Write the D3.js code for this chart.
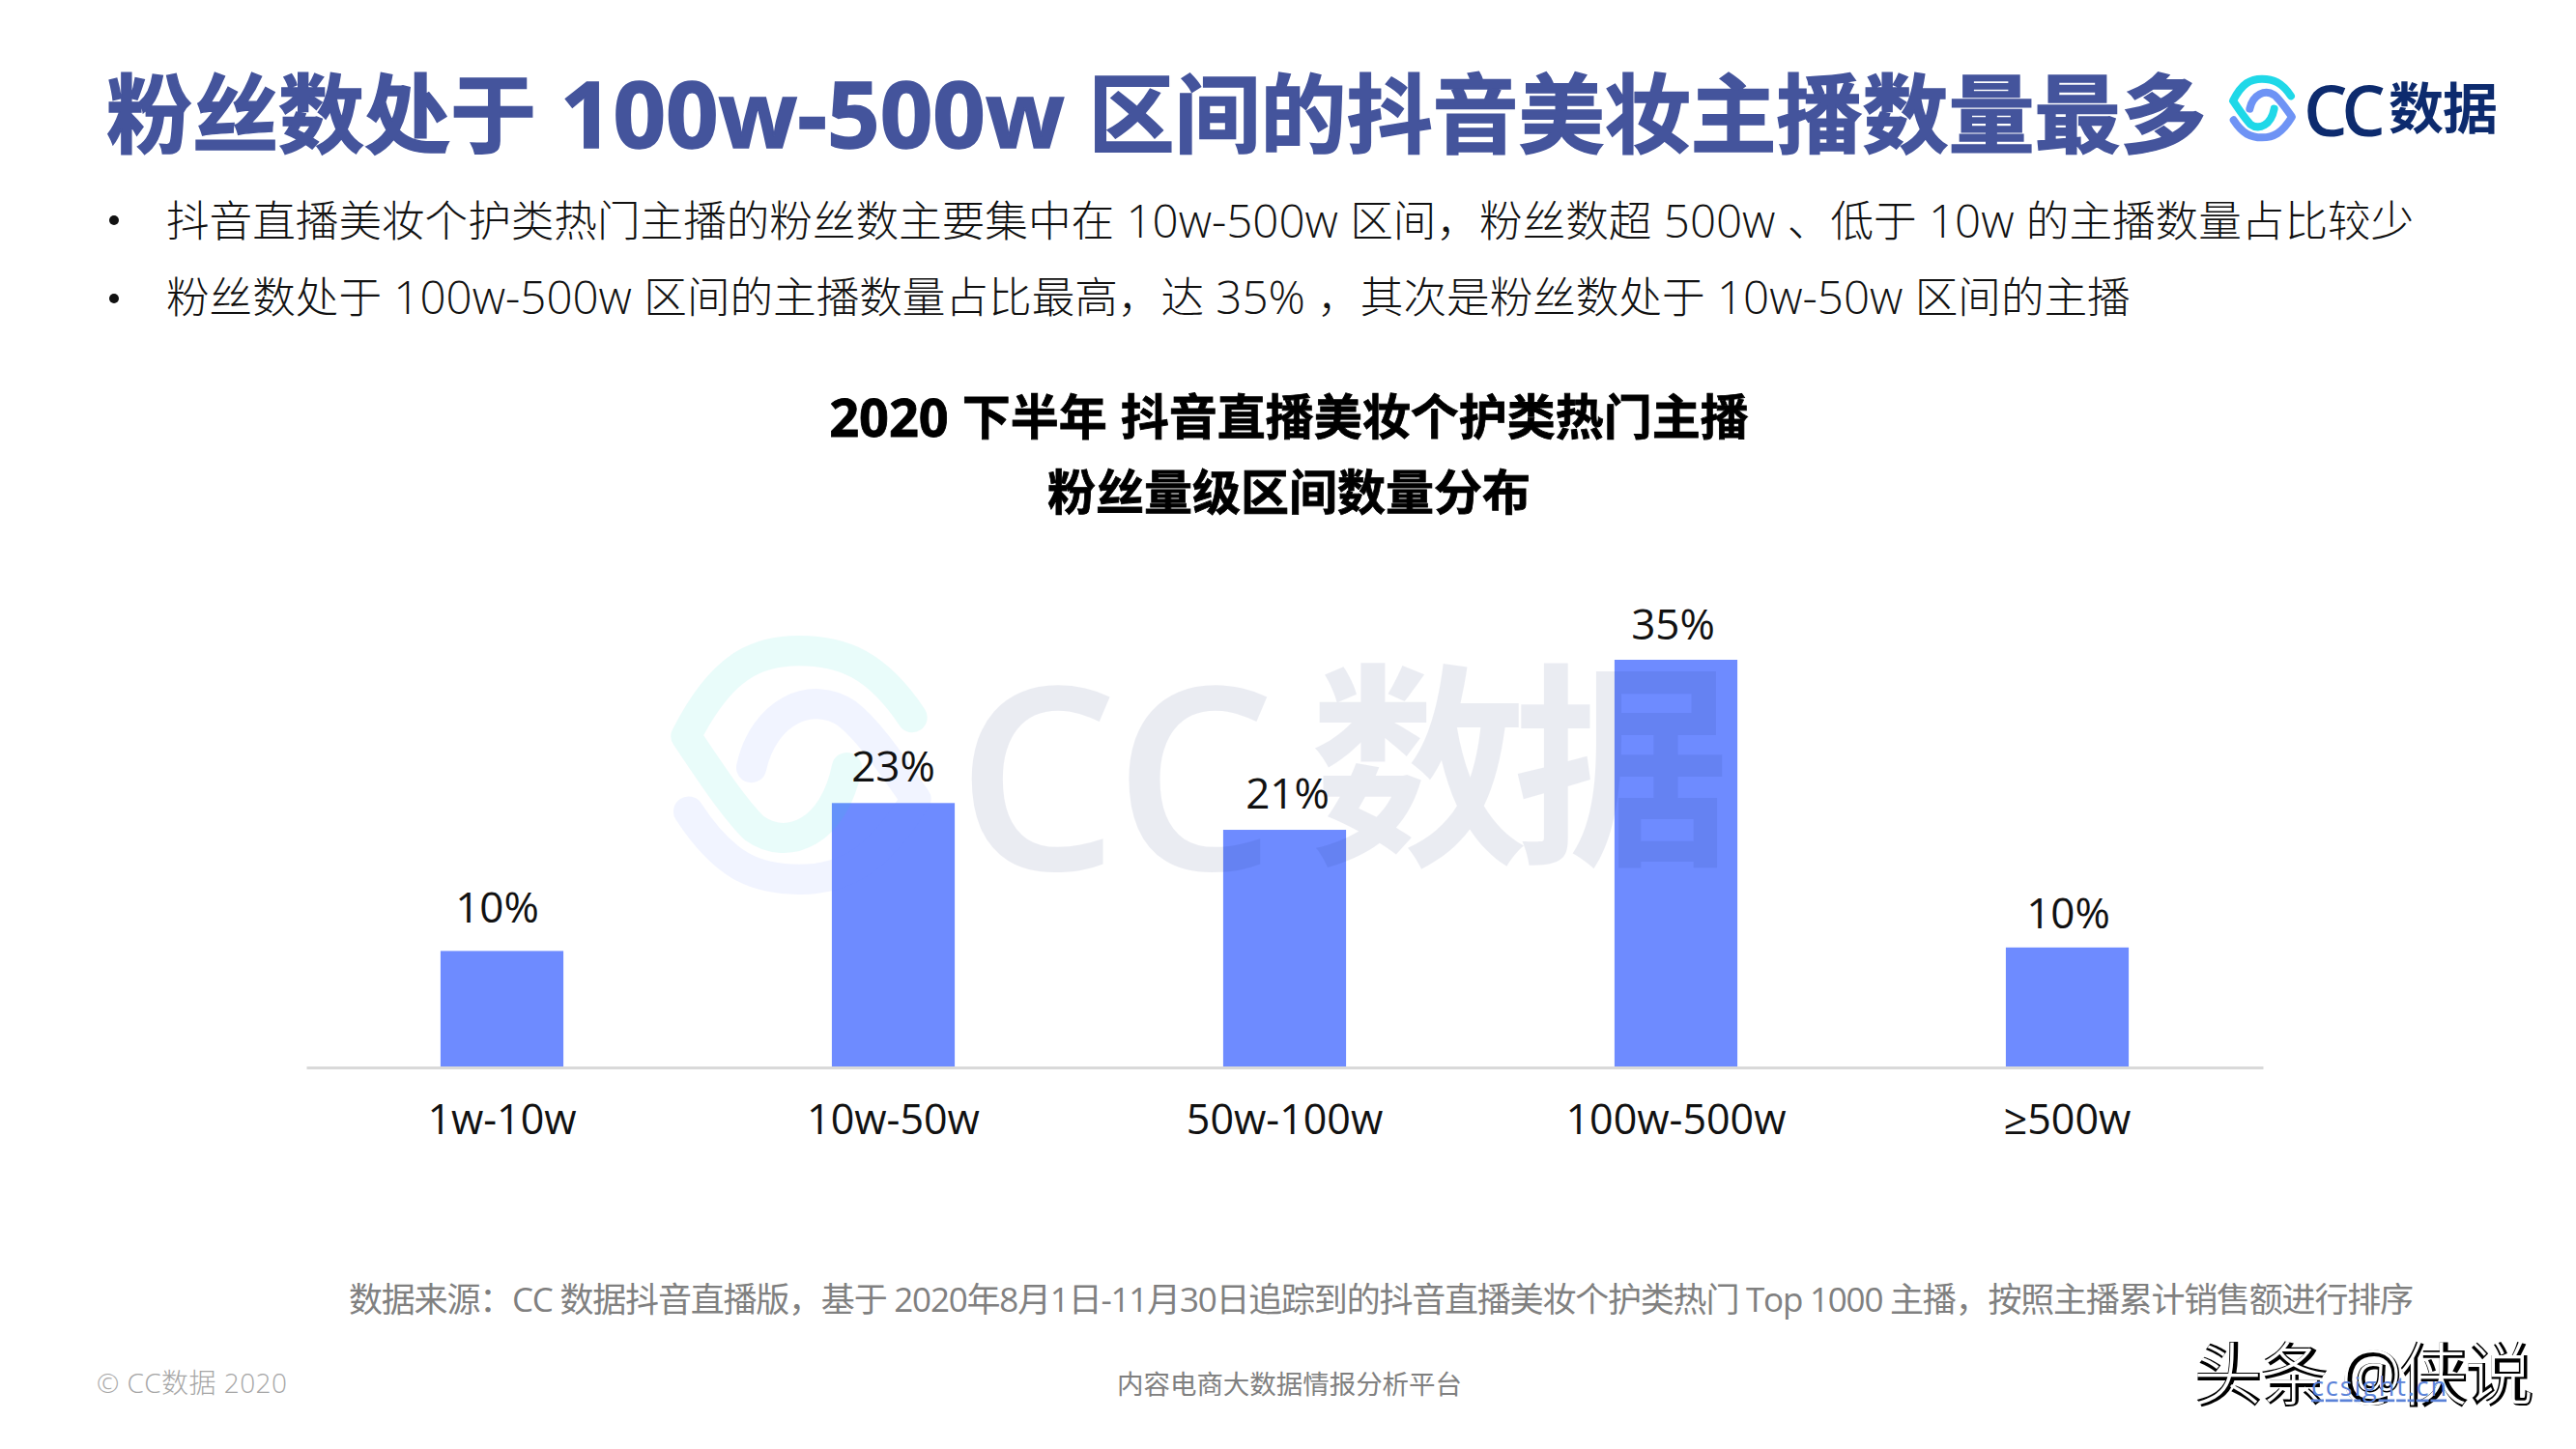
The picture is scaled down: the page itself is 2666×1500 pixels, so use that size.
<!DOCTYPE html>
<html>
<head>
<meta charset="utf-8">
<script src="https://cdn.jsdelivr.net/npm/d3@7"></script>
<style>
  html, body { margin: 0; padding: 0; background: #fff; }
  svg { display: block; }
  text { font-family: "Open Sans", "Noto Sans CJK SC", sans-serif; white-space: pre; }
</style>
</head>
<body>
<div id="chart"></div>
<script>
// chart values
const categories = ["1w-10w", "10w-50w", "50w-100w", "100w-500w", "≥500w"];
const shares = [10.0, 22.7, 20.4, 35, 10.3];
const shareLabels = ["10%", "23%", "21%", "35%", "10%"];

const headline = "粉丝数处于 100w-500w 区间的抖音美妆主播数量最多";
const bullets = [
  "抖音直播美妆个护类热门主播的粉丝数主要集中在 10w-500w 区间，粉丝数超 500w 、低于 10w 的主播数量占比较少",
  "粉丝数处于 100w-500w 区间的主播数量占比最高，达 35% ，其次是粉丝数处于 10w-50w 区间的主播"
];
const chartTitle = ["2020 下半年 抖音直播美妆个护类热门主播", "粉丝量级区间数量分布"];
const sourceNote = "数据来源：CC 数据抖音直播版，基于 2020年8月1日-11月30日追踪到的抖音直播美妆个护类热门 Top 1000 主播，按照主播累计销售额进行排序";

const width = 2666;
const height = 1500;

const svg = d3.select("#chart").append("svg")
  .attr("width", width)
  .attr("height", height)
  .attr("viewBox", [0, 0, width, height]);

function addText(x, y, str, size, fill, weight, anchor, length) {
  const t = svg.append("text")
    .attr("x", x)
    .attr("y", y)
    .attr("font-size", size)
    .attr("font-weight", weight || 400)
    .attr("fill", fill)
    .attr("text-anchor", anchor || "start")
    .attr("dominant-baseline", "central")
    .text(str);
  if (length) t.attr("textLength", length).attr("lengthAdjust", "spacing");
  return t;
}

// same as addText, but runs of latin text get their own, larger size
function addMixed(x, y, str, size, latinSize, fill, weight, anchor) {
  const t = addText(x, y, "", size, fill, weight, anchor);
  str.split(/([\x20-\x7e]+)/).filter(s => s).forEach(s => {
    const span = t.append("tspan").text(s);
    if (/^[\x20-\x7e]/.test(s)) span.attr("font-size", latinSize);
  });
  return t;
}

// logo mark: two hooks around a small ring, drawn in a 205x205 box
function drawMark(cx, cy, scale, colorA, colorB, opacity) {
  const g = svg.append("g")
    .attr("transform", `translate(${cx},${cy}) scale(${scale}) translate(-150,-188)`)
    .attr("fill", "none")
    .attr("stroke-width", 24)
    .attr("stroke-linecap", "round")
    .attr("stroke-linejoin", "round")
    .attr("opacity", opacity);
  g.append("path")
    .attr("stroke", colorB)
    .attr("d", "M62,225 C90,268 115,279 150,279 C185,279 212,266 243,215 C222,185 205,160 188,147 C160,128 122,145 112,190");
  g.append("path")
    .attr("stroke", colorA)
    .attr("d", "M240,150 C212,108 185,97 150,97 C115,97 88,110 60,165 C80,195 98,222 114,238 C142,258 178,240 188,190");
}

// header
addMixed(110, 116, headline, 89, 95.5, "#44549c", 700)
  .attr("stroke", "#44549c").attr("stroke-width", 1.5);
bullets.forEach((line, i) => {
  const y = i === 0 ? 228 : 309;
  svg.append("circle").attr("cx", 118).attr("cy", y).attr("r", 5).attr("fill", "#111");
  addMixed(172, y - (i === 0 ? 1 : 3), line, 44.6, 47.5, "#111", 300);
});

addMixed(1334, 431, chartTitle[0], 50, 54, "#000", 700, "middle")
  .attr("stroke", "#000").attr("stroke-width", 0.8);
addMixed(1334, 509, chartTitle[1], 50, 54, "#000", 700, "middle")
  .attr("stroke", "#000").attr("stroke-width", 0.8);

// bars
const x = d3.scaleBand()
  .domain(categories)
  .range([317, 2342])
  .paddingInner(0.686)
  .paddingOuter(0.343);

const y = d3.scaleLinear()
  .domain([0, 35])
  .range([1105, 683]);

svg.append("g").selectAll("rect")
  .data(categories)
  .join("rect")
  .attr("x", d => x(d))
  .attr("y", (d, i) => y(shares[i]))
  .attr("width", x.bandwidth())
  .attr("height", (d, i) => y(0) - y(shares[i]))
  .attr("fill", "#6e8bff");

// baseline and category labels
const xAxis = svg.append("g")
  .attr("transform", "translate(0,1105)")
  .call(d3.axisBottom(x).tickSize(0).tickPadding(0));
xAxis.select(".domain").attr("stroke", "#d9d9d9").attr("stroke-width", 3);
xAxis.selectAll("text")
  .attr("font-size", 43)
  .attr("font-family", '"Open Sans", "Noto Sans CJK SC", sans-serif')
  .attr("fill", "#111")
  .attr("y", 52)
  .attr("dy", 0)
  .attr("dominant-baseline", "central");

// watermark sits over the bars
drawMark(827, 792, 1.3, "#18e0d0", "#6e8bff", 0.09);
addText(990, 798, "CC", 264, "#0b1f6b", 600, "start", 330).attr("opacity", 0.08);
addText(1356, 791, "数据", 225, "#0b1f6b", 700, "start", 435).attr("opacity", 0.08);

// value labels, nudged a little the way the source slide has them
const labelNudgeX = [-5, 0, 3, -3, 1];
const labelGap = [46, 39, 39, 38, 37];
svg.append("g").selectAll("text")
  .data(shareLabels)
  .join("text")
  .attr("x", (d, i) => x(categories[i]) + x.bandwidth() / 2 + labelNudgeX[i])
  .attr("y", (d, i) => y(shares[i]) - labelGap[i])
  .attr("text-anchor", "middle")
  .attr("dominant-baseline", "central")
  .attr("font-size", 44)
  .attr("fill", "#111")
  .text(d => d);

// logo
drawMark(2341, 112, 0.333, "#1fd8e8", "#6e93f5", 1);
addText(2384, 113, "CC", 72, "#0d2b6e", 600, "start", 85);
addText(2472, 111, "数据", 57, "#0d2b6e", 700, "start", 113);

// footer
addText(361, 1344, sourceNote, 35, "#808080", 400, "start", 2137);
addText(100, 1431, "© CC数据 2020", 28, "#a6a6a6", 300, "start", 197);
addText(1156, 1432, "内容电商大数据情报分析平台", 27.5, "#808080", 400, "start", 357);

// platform stamp over the footer link: black copy with a white copy shifted on top
addText(2271, 1421, "头条 @侠说", 71, "#000", 700, "start", 352);
addText(2270, 1420, "头条 @侠说", 71, "#fff", 300, "start", 352);
svg.append("text")
  .attr("x", 2392).attr("y", 1434)
  .attr("font-size", 27).attr("fill", "#5b82d8")
  .attr("text-decoration", "underline")
  .attr("dominant-baseline", "central")
  .attr("textLength", 140)
  .text("ccsight.cn");
</script>
</body>
</html>
